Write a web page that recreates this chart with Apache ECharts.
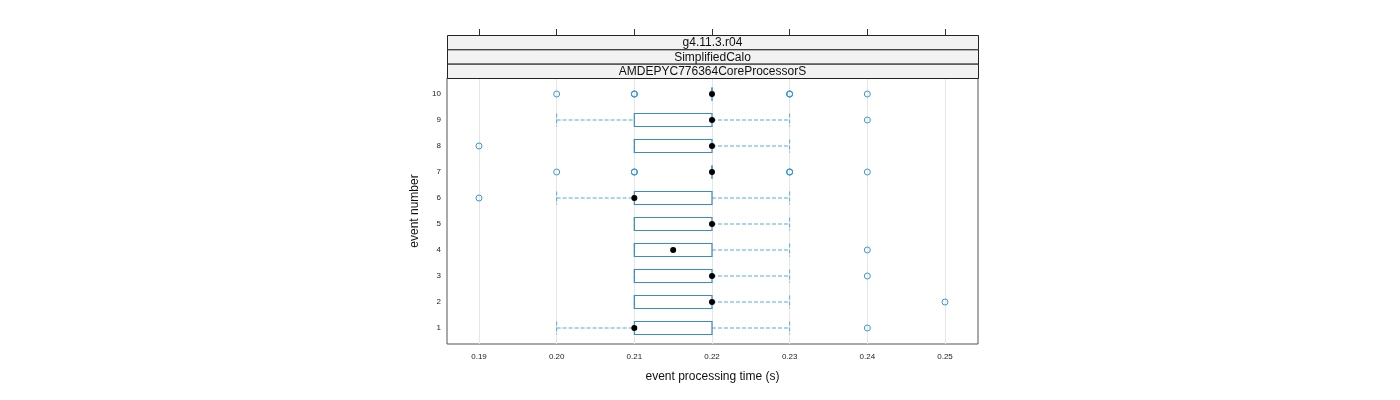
<!DOCTYPE html>
<html><head><meta charset="utf-8">
<script src="https://cdn.jsdelivr.net/npm/echarts@6/dist/echarts.min.js"></script>
<style>html,body{margin:0;padding:0;background:#fff}#c{width:1400px;height:400px}</style>
</head><body><div id="c"></div>
<script>
var events = [1,2,3,4,5,6,7,8,9,10];
var lowWhisker  = [0.20,0.21,0.21,0.21,0.21,0.20,0.22,0.21,0.20,0.22];
var q1          = [0.21,0.21,0.21,0.21,0.21,0.21,0.22,0.21,0.21,0.22];
var medians     = [0.21,0.22,0.22,0.215,0.22,0.21,0.22,0.22,0.22,0.22];
var q3          = [0.22,0.22,0.22,0.22,0.22,0.22,0.22,0.22,0.22,0.22];
var highWhisker = [0.23,0.23,0.23,0.23,0.23,0.23,0.22,0.23,0.23,0.22];
var outliers = [
  [0.24],
  [0.25],
  [0.24],
  [0.24],
  [],
  [0.19],
  [0.20,0.21,0.21,0.21,0.23,0.23,0.23,0.24],
  [0.19],
  [0.24],
  [0.20,0.21,0.21,0.21,0.23,0.23,0.23,0.24]
];
var xTicks = [0.19,0.20,0.21,0.22,0.23,0.24,0.25];
var yTicks = [1,2,3,4,5,6,7,8,9,10];
var strips = ["g4.11.3.r04","SimplifiedCalo","AMDEPYC776364CoreProcessorS"];
var xTitle = "event processing time (s)";
var yTitle = "event number";

var boxData = events.map(function(e,i){return [e,lowWhisker[i],q1[i],medians[i],q3[i],highWhisker[i]];});
var outData = [];
events.forEach(function(e,i){outliers[i].forEach(function(v){outData.push([v,e]);});});
var medData = events.map(function(e,i){return [medians[i],e];});

var XMIN=0.18588, XMAX=0.25425;
var L=447, R=978, T=78, B=344;
var boxColor='#3a8cc6', whiskColor='#5aa9dc';

function renderBox(params, api){
  var y=api.value(0);
  var lo=api.coord([api.value(1),y]), a=api.coord([api.value(2),y]);
  var b=api.coord([api.value(4),y]), hi=api.coord([api.value(5),y]);
  var h=api.size([0,0.5])[1];
  var cy=a[1];
  var dash={stroke:whiskColor,lineWidth:1,lineDash:[4,2]};
  return {type:'group',children:[
    {type:'line',shape:{x1:lo[0],y1:cy,x2:a[0],y2:cy},style:dash},
    {type:'line',shape:{x1:b[0],y1:cy,x2:hi[0],y2:cy},style:dash},
    {type:'line',shape:{x1:lo[0],y1:cy-h/2,x2:lo[0],y2:cy+h/2},style:dash},
    {type:'line',shape:{x1:hi[0],y1:cy-h/2,x2:hi[0],y2:cy+h/2},style:dash},
    {type:'rect',shape:{x:a[0],y:cy-h/2,width:Math.max(b[0]-a[0],0),height:h},style:{fill:'rgba(255,255,255,0)',stroke:boxColor,lineWidth:1.2}}
  ]};
}

var stripH=(T-35)/3;
var graphics=[];
strips.forEach(function(s,i){
  graphics.push({type:'rect',left:L,top:35+i*stripH,z:10,shape:{x:0,y:0,width:R-L,height:stripH},style:{fill:'#f2f2f2',stroke:'#222',lineWidth:1}});
  graphics.push({type:'text',x:(L+R)/2,y:35+i*stripH+stripH/2+1,z:11,style:{text:s,fill:'#111',font:'12px "Liberation Sans", Arial, sans-serif',align:'center',verticalAlign:'middle'}});
});

var chart=echarts.init(document.getElementById('c'),null,{renderer:'canvas'});
chart.setOption({
  animation:false,
  backgroundColor:'#fff',
  graphic:graphics,
  grid:[
    {left:L,right:1400-R,top:T,bottom:400-B,show:true,borderColor:'#555',borderWidth:1,backgroundColor:'rgba(0,0,0,0)'},
    {left:L,right:1400-R,top:35,height:T-35,show:false}
  ],
  xAxis:[
    {type:'value',gridIndex:0,min:XMIN,max:XMAX,position:'bottom',
     name:xTitle,nameLocation:'middle',nameGap:27,
     nameTextStyle:{fontSize:12,color:'#111',fontFamily:'Liberation Sans'},
     axisLine:{show:false},
     axisTick:{show:false,customValues:xTicks},
     axisLabel:{customValues:xTicks,fontSize:8,color:'#222',margin:9,fontFamily:'Liberation Sans',formatter:function(v){return v.toFixed(2);}},
     splitLine:{show:true,lineStyle:{color:'#e6e6e6',width:1}}},
    {type:'value',gridIndex:1,min:XMIN,max:XMAX,position:'top',show:true,
     axisLine:{show:true,onZero:false,lineStyle:{color:'rgba(0,0,0,0)'}},
     axisTick:{show:true,inside:false,length:6,customValues:xTicks,lineStyle:{color:'#333',width:1}},
     axisLabel:{show:true,customValues:xTicks,color:'rgba(0,0,0,0)',fontSize:8,formatter:function(v){return v.toFixed(2);}},
     splitLine:{show:false}}
  ],
  yAxis:[
    {type:'value',gridIndex:0,min:1-16/26,max:10+16/26,
     name:yTitle,nameLocation:'middle',nameGap:26,nameRotate:90,
     nameTextStyle:{fontSize:12,color:'#111',fontFamily:'Liberation Sans'},
     axisLine:{show:false},
     axisTick:{show:false,customValues:yTicks},
     axisLabel:{customValues:yTicks,fontSize:8,color:'#222',margin:6,fontFamily:'Liberation Sans'},
     splitLine:{show:false}},
    {type:'value',gridIndex:1,min:0,max:1,show:false}
  ],
  series:[
    {type:'custom',xAxisIndex:0,yAxisIndex:0,data:boxData,renderItem:renderBox,encode:{y:0,x:[1,2,3,4,5]},z:2,silent:true},
    {type:'scatter',xAxisIndex:0,yAxisIndex:0,data:outData,symbol:'circle',symbolSize:6,
     itemStyle:{color:'rgba(255,255,255,0)',borderColor:'#3c9ad6',borderWidth:1,opacity:1},z:3,silent:true},
    {type:'scatter',xAxisIndex:0,yAxisIndex:0,data:medData,symbol:'circle',symbolSize:6,
     itemStyle:{color:'#000',opacity:1},z:4,silent:true},
    {type:'scatter',xAxisIndex:1,yAxisIndex:1,data:[],silent:true}
  ]
});
</script></body></html>
